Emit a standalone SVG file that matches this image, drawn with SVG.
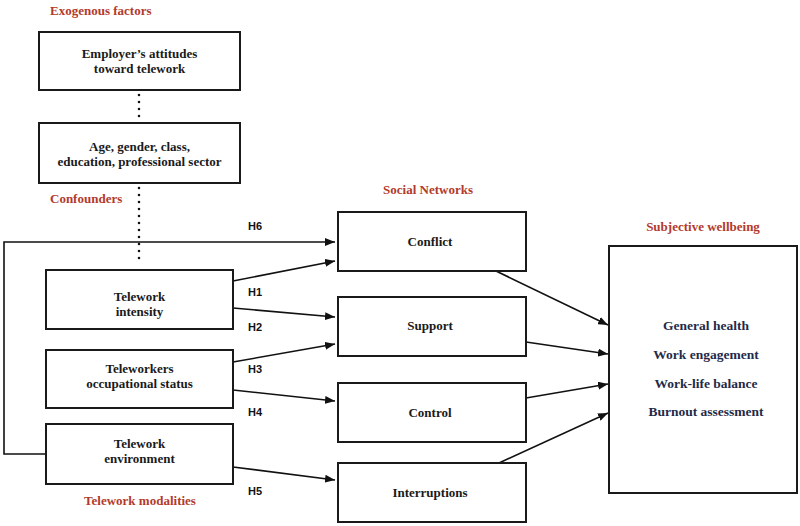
<svg xmlns="http://www.w3.org/2000/svg" width="800" height="526" viewBox="0 0 800 526">
<defs>
<marker id="arr" viewBox="0 0 10 8" refX="10" refY="4" markerWidth="10" markerHeight="8" markerUnits="userSpaceOnUse" orient="auto">
<path d="M0,0 L10,4 L0,8 z" fill="#111"/>
</marker>
</defs>
<style>
.box{fill:#fff;stroke:#1a1a1a;stroke-width:2}
.t{font-family:"Liberation Serif","Times New Roman",serif;font-weight:bold;font-size:13px;fill:#1a1a1a;text-anchor:middle}
.sec{font-family:"Liberation Serif","Times New Roman",serif;font-weight:bold;font-size:13px;fill:#b23a2c}
.h{font-family:"Liberation Sans",Arial,sans-serif;font-weight:bold;font-size:11px;fill:#111}
.w{font-family:"Liberation Serif","Times New Roman",serif;font-weight:bold;font-size:13.5px;fill:#1f2b48;text-anchor:middle}
.c{fill:none;stroke:#111;stroke-width:1.6}
.dot{fill:none;stroke:#111;stroke-width:2.6;stroke-dasharray:0 7;stroke-linecap:round}
</style>
<rect width="800" height="526" fill="#fff"/>
<text class="sec" x="50" y="15">Exogenous factors</text>
<text class="sec" x="50" y="203">Confounders</text>
<text class="sec" x="140" y="505" text-anchor="middle">Telework modalities</text>
<text class="sec" x="428" y="194" text-anchor="middle">Social Networks</text>
<text class="sec" x="703" y="231" text-anchor="middle">Subjective wellbeing</text>
<g id="connectors">
<path class="dot" d="M139,95 V122"/>
<path class="dot" d="M139,188 V265"/>
<path class="c" d="M46,454 H4 V242 H335" marker-end="url(#arr)"/>
<path class="c" d="M233,281 L335,261" marker-end="url(#arr)"/>
<path class="c" d="M233,308 L335,317" marker-end="url(#arr)"/>
<path class="c" d="M233,362 L335,344" marker-end="url(#arr)"/>
<path class="c" d="M233,390 L335,401" marker-end="url(#arr)"/>
<path class="c" d="M233,467 L335,480" marker-end="url(#arr)"/>
<path class="c" d="M496,271 L608,325" marker-end="url(#arr)"/>
<path class="c" d="M526,342 L608,354" marker-end="url(#arr)"/>
<path class="c" d="M526,398 L608,384" marker-end="url(#arr)"/>
<path class="c" d="M499,463 L608,413" marker-end="url(#arr)"/>
<text class="h" x="248" y="230">H6</text>
<text class="h" x="248" y="296">H1</text>
<text class="h" x="248" y="331">H2</text>
<text class="h" x="248" y="373">H3</text>
<text class="h" x="248" y="416">H4</text>
<text class="h" x="248" y="495">H5</text>
</g>
<g id="employer"><rect class="box" x="39" y="32" width="201" height="58"/><text class="t" x="139.5" y="58">Employer’s attitudes</text><text class="t" x="139.5" y="73">toward telework</text></g>
<g id="confounders"><rect class="box" x="39" y="123" width="201" height="60"/><text class="t" x="139.5" y="151">Age, gender, class,</text><text class="t" x="139.5" y="166">education, professional sector</text></g>
<g id="intensity"><rect class="box" x="46" y="270" width="187" height="59"/><text class="t" x="139.5" y="301">Telework</text><text class="t" x="139.5" y="316">intensity</text></g>
<g id="status"><rect class="box" x="46" y="350" width="187" height="58"/><text class="t" x="139.5" y="373">Teleworkers</text><text class="t" x="139.5" y="388">occupational status</text></g>
<g id="environment"><rect class="box" x="46" y="424" width="187" height="60"/><text class="t" x="139.5" y="448">Telework</text><text class="t" x="139.5" y="463">environment</text></g>
<g id="conflict"><rect class="box" x="338" y="212" width="188" height="59"/><text class="t" x="430" y="246">Conflict</text></g>
<g id="support"><rect class="box" x="338" y="297" width="188" height="59"/><text class="t" x="430" y="330">Support</text></g>
<g id="control"><rect class="box" x="338" y="383" width="188" height="59"/><text class="t" x="430" y="417">Control</text></g>
<g id="interruptions"><rect class="box" x="338" y="463" width="188" height="59"/><text class="t" x="430" y="497">Interruptions</text></g>
<g id="wellbeing"><rect class="box" x="609" y="246" width="188" height="247"/>
<text class="w" x="706" y="330">General health</text>
<text class="w" x="706" y="359">Work engagement</text>
<text class="w" x="706" y="388">Work-life balance</text>
<text class="w" x="706" y="416">Burnout assessment</text></g>
</svg>
